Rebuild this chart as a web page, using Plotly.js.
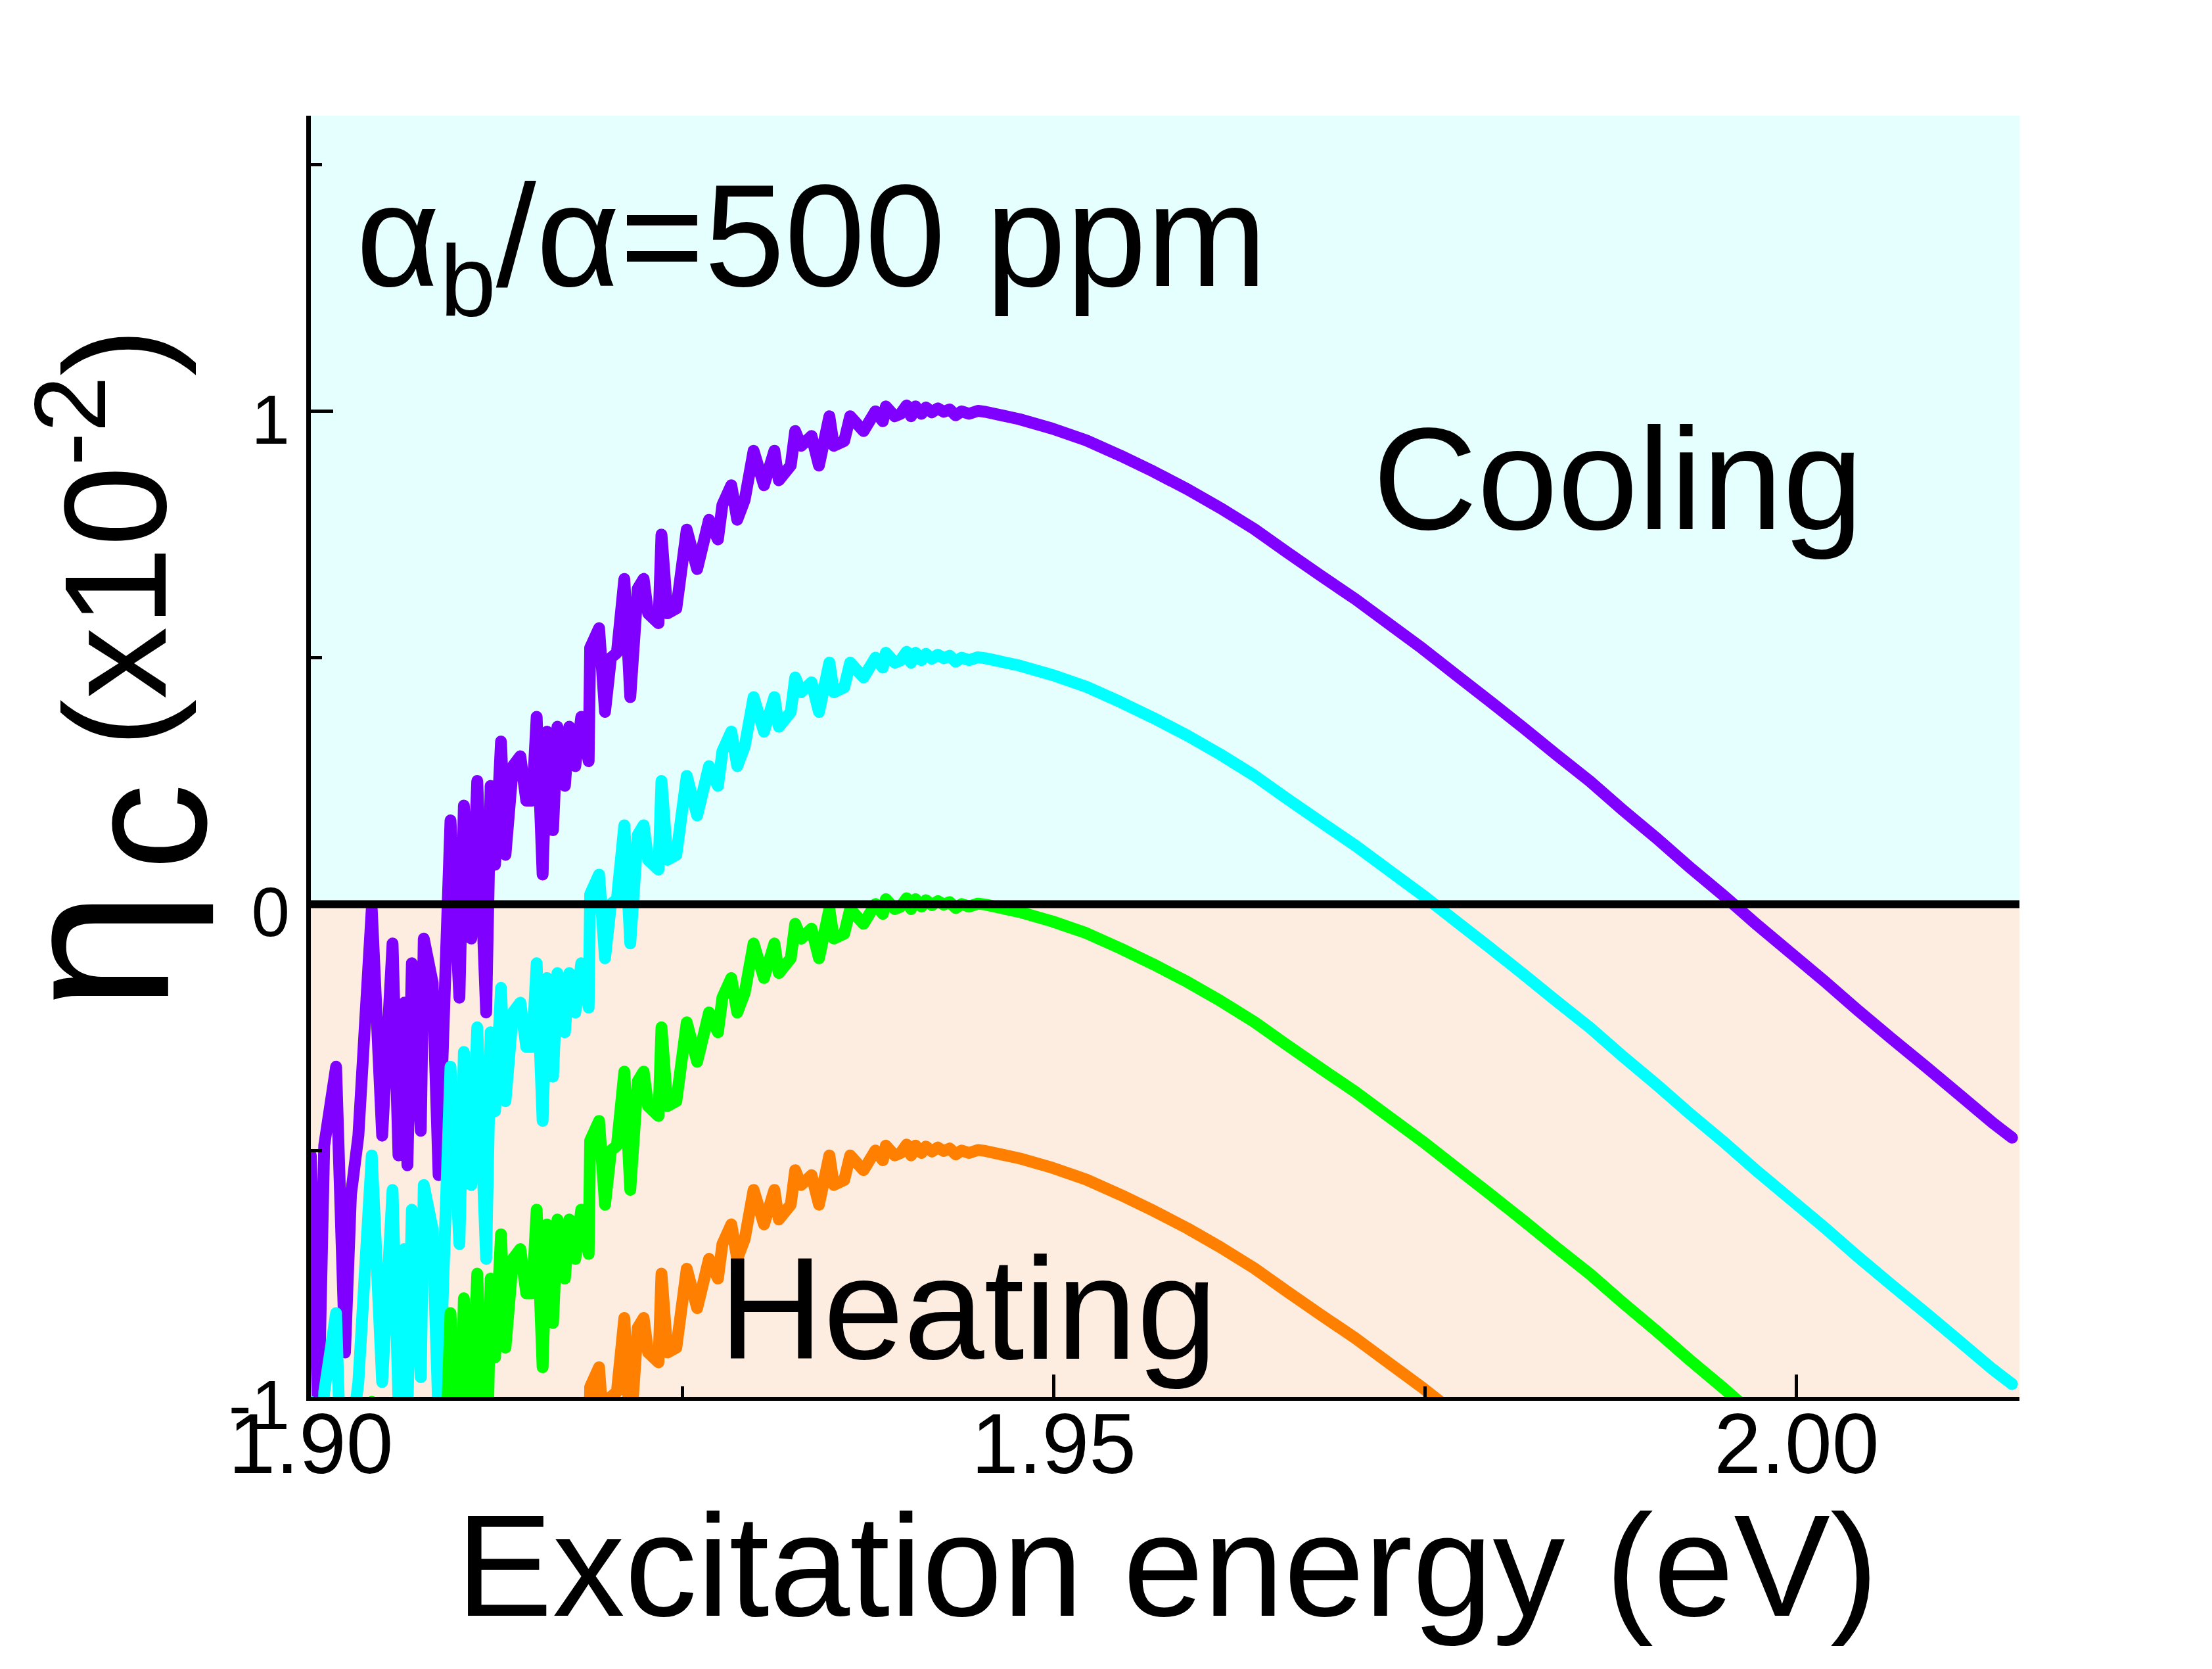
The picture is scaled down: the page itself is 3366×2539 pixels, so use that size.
<!DOCTYPE html>
<html>
<head>
<meta charset="utf-8">
<script src="https://cdn.plot.ly/plotly-3.0.1.min.js"></script>
<style>
    html, body { margin: 0; padding: 0; background: #ffffff; }
    #chart { width: 3366px; height: 2539px; }
    /* round ends on the noisy traces, like the original plot */
    .scatterlayer .js-line { stroke-linejoin: round; stroke-linecap: round; }
</style>
</head>
<body>
<div id="chart"></div>
<script>
// ---- data (eta_c in units of 1e-2) ----
const energy = [
    1.9000, 1.9005, 1.9009, 1.9017, 1.9023, 1.9027, 1.9032, 1.9041, 1.9048, 1.9055,
    1.9059, 1.9063, 1.9065, 1.9068, 1.9074, 1.9076, 1.9082, 1.9086, 1.9094, 1.9100,
    1.9103, 1.9108, 1.9112, 1.9118, 1.9121, 1.9124, 1.9128, 1.9131, 1.9136, 1.9141,
    1.9145, 1.9149, 1.9152, 1.9156, 1.9159, 1.9163, 1.9166, 1.9171, 1.9174, 1.9178,
    1.9182, 1.9187, 1.9188, 1.9194, 1.9198, 1.9202, 1.9206, 1.9211, 1.9215, 1.9220,
    1.9224, 1.9227, 1.9234, 1.9236, 1.9240, 1.9246, 1.9253, 1.9260, 1.9268, 1.9274,
    1.9277, 1.9283, 1.9287, 1.9292, 1.9298, 1.9305, 1.9312, 1.9315, 1.9323, 1.9326,
    1.9330, 1.9337, 1.9342, 1.9349, 1.9352, 1.9359, 1.9363, 1.9372, 1.9380, 1.9385,
    1.9387, 1.9393, 1.9397, 1.9401, 1.9404, 1.9407, 1.9411, 1.9414, 1.9418, 1.9422,
    1.9426, 1.9430, 1.9434, 1.9438, 1.9443, 1.9449, 1.9454,
    1.9477, 1.9499, 1.9522, 1.9545, 1.9567, 1.9590, 1.9612, 1.9635, 1.9657, 1.9680,
    1.9703, 1.9725, 1.9748, 1.9770, 1.9793, 1.9816, 1.9838, 1.9861, 1.9883, 1.9906,
    1.9928, 1.9951, 1.9973, 1.9996, 2.0019, 2.0041, 2.0064, 2.0087, 2.0110, 2.0132,
    2.0145
];

const etaPurple = [
    -0.51, -1.05, -0.49, -0.33, -0.91, -0.59, -0.47, -0.01, -0.47, -0.08,
    -0.51, -0.20, -0.53, -0.12, -0.46, -0.07, -0.16, -0.55, 0.17, -0.19,
    0.20, -0.07, 0.25, -0.22, 0.24, 0.08, 0.33, 0.10, 0.28, 0.30,
    0.21, 0.21, 0.38, 0.06, 0.35, 0.15, 0.36, 0.24, 0.36, 0.28,
    0.38, 0.29, 0.52, 0.56, 0.39, 0.50, 0.51, 0.66, 0.42, 0.64,
    0.66, 0.59, 0.57, 0.75, 0.59, 0.60, 0.76, 0.68, 0.78, 0.74,
    0.81, 0.85, 0.78, 0.82, 0.92, 0.85, 0.92, 0.86, 0.89, 0.96,
    0.93, 0.95, 0.89, 0.99, 0.93, 0.94, 0.99, 0.96, 1.00, 0.98,
    1.01, 0.99, 0.995, 1.012, 0.99, 1.01, 0.995, 1.008, 0.998, 1.006,
    0.999, 1.004, 0.992, 1.000, 0.995, 1.001, 0.999,
    0.984, 0.965, 0.941, 0.910, 0.878, 0.842, 0.804, 0.761, 0.714, 0.666,
    0.619, 0.570, 0.519, 0.467, 0.413, 0.358, 0.304, 0.249, 0.191, 0.133,
    0.075, 0.017, -0.041, -0.099, -0.157, -0.215, -0.273, -0.330, -0.388, -0.444,
    -0.474
];

const etaCyan = [
    -1.01, -1.55, -0.99, -0.83, -1.41, -1.09, -0.97, -0.51, -0.97, -0.58,
    -1.01, -0.70, -1.03, -0.62, -0.96, -0.57, -0.66, -1.05, -0.33, -0.69,
    -0.30, -0.57, -0.25, -0.72, -0.26, -0.42, -0.17, -0.40, -0.22, -0.20,
    -0.29, -0.29, -0.12, -0.44, -0.15, -0.35, -0.14, -0.26, -0.14, -0.22,
    -0.12, -0.21, 0.02, 0.06, -0.11, 0.00, 0.01, 0.16, -0.08, 0.14,
    0.16, 0.09, 0.07, 0.25, 0.09, 0.10, 0.26, 0.18, 0.28, 0.24,
    0.31, 0.35, 0.28, 0.32, 0.42, 0.35, 0.42, 0.36, 0.39, 0.46,
    0.43, 0.45, 0.39, 0.49, 0.43, 0.44, 0.49, 0.46, 0.50, 0.48,
    0.51, 0.49, 0.495, 0.512, 0.49, 0.51, 0.495, 0.508, 0.498, 0.506,
    0.499, 0.504, 0.492, 0.500, 0.495, 0.501, 0.499,
    0.484, 0.465, 0.441, 0.410, 0.378, 0.342, 0.304, 0.261, 0.214, 0.166,
    0.119, 0.070, 0.019, -0.033, -0.087, -0.142, -0.196, -0.251, -0.309, -0.367,
    -0.425, -0.483, -0.541, -0.599, -0.657, -0.715, -0.773, -0.830, -0.888, -0.944,
    -0.974
];

const etaGreen = [
    -1.51, -2.05, -1.49, -1.33, -1.91, -1.59, -1.47, -1.01, -1.47, -1.08,
    -1.51, -1.20, -1.53, -1.12, -1.46, -1.07, -1.16, -1.55, -0.83, -1.19,
    -0.80, -1.07, -0.75, -1.22, -0.76, -0.92, -0.67, -0.90, -0.72, -0.70,
    -0.79, -0.79, -0.62, -0.94, -0.65, -0.85, -0.64, -0.76, -0.64, -0.72,
    -0.62, -0.71, -0.48, -0.44, -0.61, -0.50, -0.49, -0.34, -0.58, -0.36,
    -0.34, -0.41, -0.43, -0.25, -0.41, -0.40, -0.24, -0.32, -0.22, -0.26,
    -0.19, -0.15, -0.22, -0.18, -0.08, -0.15, -0.08, -0.14, -0.11, -0.04,
    -0.07, -0.05, -0.11, -0.01, -0.07, -0.06, -0.01, -0.04, 0.00, -0.02,
    0.01, -0.01, -0.005, 0.012, -0.01, 0.01, -0.005, 0.008, -0.002, 0.006,
    -0.001, 0.004, -0.008, 0.000, -0.005, 0.001, -0.001,
    -0.016, -0.035, -0.059, -0.090, -0.122, -0.158, -0.196, -0.239, -0.286, -0.334,
    -0.381, -0.430, -0.481, -0.533, -0.587, -0.642, -0.696, -0.751, -0.809, -0.867,
    -0.925, -0.983, -1.041, -1.099, -1.157, -1.215, -1.273, -1.330, -1.388, -1.444,
    -1.474
];

const etaOrange = [
    -2.01, -2.55, -1.99, -1.83, -2.41, -2.09, -1.97, -1.51, -1.97, -1.58,
    -2.01, -1.70, -2.03, -1.62, -1.96, -1.57, -1.66, -2.05, -1.33, -1.69,
    -1.30, -1.57, -1.25, -1.72, -1.26, -1.42, -1.17, -1.40, -1.22, -1.20,
    -1.29, -1.29, -1.12, -1.44, -1.15, -1.35, -1.14, -1.26, -1.14, -1.22,
    -1.12, -1.21, -0.98, -0.94, -1.11, -1.00, -0.99, -0.84, -1.08, -0.86,
    -0.84, -0.91, -0.93, -0.75, -0.91, -0.90, -0.74, -0.82, -0.72, -0.76,
    -0.69, -0.65, -0.72, -0.68, -0.58, -0.65, -0.58, -0.64, -0.61, -0.54,
    -0.57, -0.55, -0.61, -0.51, -0.57, -0.56, -0.51, -0.54, -0.50, -0.52,
    -0.49, -0.51, -0.505, -0.488, -0.51, -0.49, -0.505, -0.492, -0.502, -0.494,
    -0.501, -0.496, -0.508, -0.500, -0.505, -0.499, -0.501,
    -0.516, -0.535, -0.559, -0.590, -0.622, -0.658, -0.696, -0.739, -0.786, -0.834,
    -0.881, -0.930, -0.981, -1.033, -1.087, -1.142, -1.196, -1.251, -1.309, -1.367,
    -1.425, -1.483, -1.541, -1.599, -1.657, -1.715, -1.773, -1.830, -1.888, -1.944,
    -1.974
];

const xTickVals = [1.90, 1.95, 2.00];
const xTickText = ['1.90', '1.95', '2.00'];
const xMinorVals = [1.925, 1.975];
const yTickVals = [-1, 0, 1];
const yTickText = ['-1', '0', '1'];
const yMinorVals = [-0.5, 0.5, 1.5];

// ---- drawing ----
const FONT = 'Liberation Sans, Arial, Helvetica, sans-serif';
const LINE_W = 18;

const series = [
    { y: etaPurple, color: '#8000ff' },
    { y: etaCyan,   color: '#00ffff' },
    { y: etaGreen,  color: '#00ff00' },
    { y: etaOrange, color: '#ff8000' }
];

const traces = series.map(s => ({
    x: energy, y: s.y,
    type: 'scatter', mode: 'lines',
    line: { color: s.color, width: LINE_W, simplify: false },
    hoverinfo: 'skip', showlegend: false
}));

// rotated / free texts, all centred on their anchor point
const label = (text, xref, yref, x, y, size, angle) => ({
    text, xref, yref, x, y,
    xanchor: 'center', yanchor: 'middle',
    textangle: angle || 0, showarrow: false,
    font: { family: FONT, size: size, color: '#000000' }
});

const layout = {
    width: 3366, height: 2539,
    margin: { l: 473, r: 293, t: 176, b: 414 },
    paper_bgcolor: '#ffffff', plot_bgcolor: '#ffffff',
    showlegend: false,
    font: { family: FONT, color: '#000000' },

    xaxis: {
        range: [1.90, 2.015],
        showgrid: false, zeroline: false,
        showline: true, linecolor: '#000000', linewidth: 6,
        tickmode: 'array', tickvals: xTickVals, ticktext: xTickText,
        ticks: 'inside', ticklen: 34, tickwidth: 5, tickcolor: '#000000',
        minor: { tickmode: 'array', tickvals: xMinorVals, ticks: 'inside', ticklen: 16, tickwidth: 5, tickcolor: '#000000', showgrid: false },
        tickfont: { family: FONT, size: 129, color: '#000000' },
        ticklabelstandoff: -45
    },
    yaxis: {
        range: [-1, 1.6],
        showgrid: false, zeroline: false,
        showline: true, linecolor: '#000000', linewidth: 7,
        tickmode: 'array', tickvals: yTickVals, ticktext: yTickText,
        ticks: 'inside', ticklen: 34, tickwidth: 5, tickcolor: '#000000',
        minor: { tickmode: 'array', tickvals: yMinorVals, ticks: 'inside', ticklen: 17, tickwidth: 5, tickcolor: '#000000', showgrid: false },
        tickfont: { family: FONT, size: 105, color: '#000000' },
        ticklabelstandoff: 4,
        ticklabelshift: 12
    },

    shapes: [
        // cooling / heating backgrounds
        { type: 'rect', xref: 'paper', x0: 0, x1: 1, yref: 'y', y0: 0, y1: 1.6,
          fillcolor: '#e5ffff', line: { width: 0 }, layer: 'below' },
        { type: 'rect', xref: 'paper', x0: 0, x1: 1, yref: 'y', y0: -1, y1: 0,
          fillcolor: '#fdede0', line: { width: 0 }, layer: 'below' },
        // eta = 0 line, over the curves
        { type: 'line', xref: 'paper', x0: 0, x1: 1, yref: 'y', y0: 0, y1: 0,
          line: { color: '#000000', width: 12 }, layer: 'above' }
    ],

    annotations: [
        Object.assign(label('\u03b1<sub>b</sub>/\u03b1=500 ppm', 'x', 'y', 1.90296, 1.334, 220), { xanchor: 'left' }),
        label('Cooling', 'x', 'y', 1.98796, 0.862, 220),
        label('Heating', 'x', 'y', 1.94425, -0.821, 220),
        // x title
        label('Excitation energy (eV)', 'paper', 'paper', 0.5012, -0.1320, 220),
        // y title, in three pieces
        label('\u03b7', 'paper', 'paper', -0.1270, 0.3484, 330, -90),
        label('c', 'paper', 'paper', -0.0969, 0.4448, 265, -90),
        label('(x10<sup>-2</sup>)', 'paper', 'paper', -0.1204, 0.6706, 220, -90)
    ]
};

const config = { staticPlot: true, displayModeBar: false };

Plotly.newPlot('chart', traces, layout, config);
</script>
</body>
</html>
